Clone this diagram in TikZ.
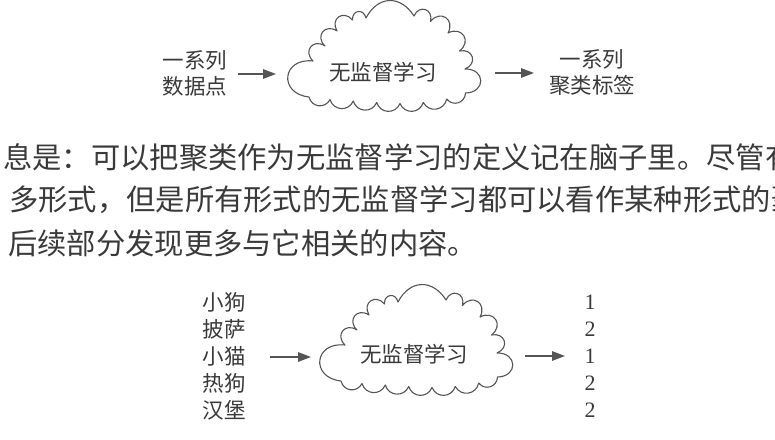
\documentclass[tikz,border=0pt]{standalone}
\usepackage{fontspec}
\setmainfont{Liberation Serif}
\newfontfamily\cjk{Noto Sans CJK SC}
\usetikzlibrary{arrows.meta}
\definecolor{ink}{HTML}{3A3A3A}
\definecolor{linegray}{HTML}{555555}
\tikzset{
  lbl/.style={inner sep=0pt, text=ink, font=\cjk\fontsize{21.5}{26}\selectfont, align=center},
  bodyline/.style={inner sep=0pt, anchor=west, text=ink, font=\cjk\fontsize{29.3}{42}\selectfont},
  numlbl/.style={inner sep=0pt, text=ink, font=\fontsize{22}{26}\selectfont},
  arr/.style={draw=linegray, line width=1.4pt, -{Triangle[length=13pt,width=9.5pt]}},
  cloudline/.style={draw=linegray, line width=1.1pt, line join=round},
  bigpuff/.style={bend left=90, looseness=2.2},
  puff/.style={bend left=85, looseness=1.9},
  toppuff/.style={bend left=60, looseness=1.35},
  lowpuff/.style={bend left=70, looseness=1.3},
  pics/cloudshape/.style={code={
    \draw[cloudline]
      (309,-97) to[bigpuff] (313,-61)
      to[puff] (325,-46)
      to[puff] (337,-31)
      to[puff] (352.5,-20)
      to[puff] (366,-18)
      to[toppuff] (414,-16)
      to[puff] (430.5,-21.5)
      to[puff] (448,-33)
      to[puff] (459.5,-51)
      to[puff] (465,-69)
      to[bigpuff] (465.5,-93)
      to[lowpuff] (446.7,-99)
      to[lowpuff] (423.3,-102.5)
      to[lowpuff] (400,-103.5)
      to[lowpuff] (376.7,-102.5)
      to[lowpuff] (353.3,-101)
      to[lowpuff] (330,-99.5)
      to[lowpuff] (309,-97) -- cycle;
  }}
}
\begin{document}
\begin{tikzpicture}[x=1pt,y=1pt]
\clip (0,0) rectangle (775,-439);
\fill[white] (0,0) rectangle (775,-439);

% ---------- top diagram ----------
\pic at (0,0) {cloudshape};
\node[lbl] (inA) at (195,-73) {一系列\\数据点};
\node[lbl] (cA) at (383,-72) {无监督学习};
\node[lbl] (outA) at (592,-72.5) {一系列\\聚类标签};
\coordinate (aAs) at (238,-74);
\coordinate (aAe) at (276,-74);
\coordinate (bAs) at (495,-73);
\coordinate (bAe) at (534,-73);
\draw[arr] (aAs) -- (aAe);
\draw[arr] (bAs) -- (bAe);

% ---------- body text ----------
\node[bodyline] (t1) at (3,-157) {息是：可以把聚类作为无监督学习的定义记在脑子里。尽管有};
\node[bodyline] (t2) at (9,-200) {多形式，但是所有形式的无监督学习都可以看作某种形式的聚};
\node[bodyline] (t3) at (8,-243) {后续部分发现更多与它相关的内容。};

% ---------- bottom diagram ----------
\pic at (32,-284) {cloudshape};
\node[lbl] (cB) at (414,-354) {无监督学习};
\node[lbl] (i1) at (224,-302) {小狗};
\node[lbl] (i2) at (224,-329) {披萨};
\node[lbl] (i3) at (224,-356) {小猫};
\node[lbl] (i4) at (224,-383) {热狗};
\node[lbl] (i5) at (224,-410) {汉堡};
\node[numlbl] (n1) at (590,-302) {1};
\node[numlbl] (n2) at (590,-329) {2};
\node[numlbl] (n3) at (590,-356) {1};
\node[numlbl] (n4) at (590,-383) {2};
\node[numlbl] (n5) at (590,-410) {2};
\coordinate (aBs) at (270,-357);
\coordinate (aBe) at (311,-357);
\coordinate (bBs) at (525,-356);
\coordinate (bBe) at (565,-356);
\draw[arr] (aBs) -- (aBe);
\draw[arr] (bBs) -- (bBe);
\end{tikzpicture}
\end{document}
